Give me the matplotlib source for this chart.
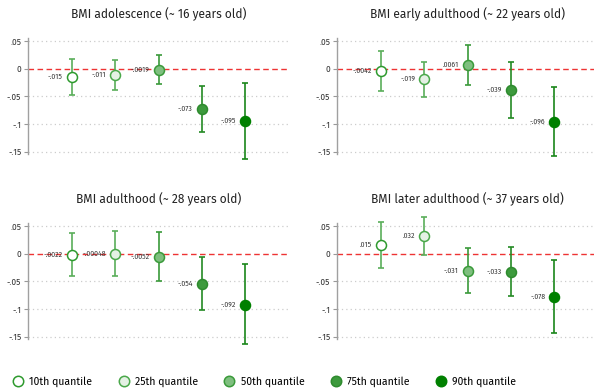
import matplotlib
matplotlib.use("Agg")
import matplotlib.pyplot as plt
from matplotlib.lines import Line2D

plt.rcParams['font.family'] = ['Fira Sans', 'Open Sans', 'DejaVu Sans']

titles = ["BMI adolescence (~ 16 years old)", "BMI early adulthood (~ 22 years old)",
          "BMI adulthood (~ 28 years old)", "BMI later adulthood (~ 37 years old)"]
quantiles = ["10th quantile", "25th quantile", "50th quantile", "75th quantile", "90th quantile"]

est_adol = [-0.015, -0.011, -0.0019, -0.073, -0.095]
lo_adol = [-0.047, -0.038, -0.028, -0.114, -0.164]
hi_adol = [0.017, 0.016, 0.024, -0.032, -0.025]

est_early = [-0.0042, -0.019, 0.0061, -0.039, -0.096]
lo_early = [-0.040, -0.051, -0.030, -0.089, -0.158]
hi_early = [0.032, 0.012, 0.043, 0.012, -0.033]

est_adult = [-0.0022, -0.00048, -0.0052, -0.054, -0.092]
lo_adult = [-0.041, -0.041, -0.049, -0.101, -0.164]
hi_adult = [0.038, 0.041, 0.039, -0.0066, -0.018]

est_later = [0.015, 0.032, -0.031, -0.033, -0.078]
lo_later = [-0.026, -0.002, -0.071, -0.077, -0.143]
hi_later = [0.058, 0.067, 0.0097, 0.0126, -0.011]

labels_adol = ["-.015", "-.011", "-.0019", "-.073", "-.095"]
labels_early = ["-.0042", "-.019", ".0061", "-.039", "-.096"]
labels_adult = ["-.0022", "-.00048", "-.0052", "-.054", "-.092"]
labels_later = [".015", ".032", "-.031", "-.033", "-.078"]

yticks = [0.05, 0, -0.05, -0.1, -0.15]
ytick_labels = [".05", "0", "-.05", "-.1", "-.15"]

face_cols = ["#ffffff", "#e4f1e4", "#7fbf7f", "#3d9a3d", "#008000"]
edge_cols = ["#2e9a2e", "#4aa84a", "#3a9a3a", "#2e8b2e", "#008000"]
bar_cols = ["#5aae5a", "#5aae5a", "#3a9a3a", "#248a24", "#1a861a"]

panels = [
    (titles[0], est_adol, lo_adol, hi_adol, labels_adol),
    (titles[1], est_early, lo_early, hi_early, labels_early),
    (titles[2], est_adult, lo_adult, hi_adult, labels_adult),
    (titles[3], est_later, lo_later, hi_later, labels_later),
]

W, H = 594, 391
fig = plt.figure(figsize=(W / 100, H / 100), dpi=100)

positions = [(28.3, 27.2), (337.3, 27.2), (28.3, 212.2), (337.3, 212.2)]
ax_w_px = 260.5
ax_h_px = 138.3

xs = [1, 2, 3, 4, 5]
for (title, est, lo, hi, labs), (lx, ty) in zip(panels, positions):
    ax = fig.add_axes([lx / W, (H - ty - ax_h_px) / H, ax_w_px / W, ax_h_px / H])
    ax.set_xlim(0, 6)
    ax.set_ylim(-0.175, 0.075)
    for yv in [0.05, -0.05, -0.1, -0.15]:
        ax.axhline(yv, color="#cccccc", lw=0.9, ls=(0, (1, 2.5)), zorder=0)
    ax.axhline(0, color="#ee3333", lw=1.0, ls=(0, (4, 2.5)), zorder=1)
    for i in range(5):
        ax.errorbar([xs[i]], [est[i]], yerr=[[est[i] - lo[i]], [hi[i] - est[i]]],
                    fmt="none", ecolor=bar_cols[i], elinewidth=1.2, capsize=2.5,
                    capthick=1.2, zorder=2)
        ax.plot([xs[i]], [est[i]], "o", ms=7.2, mfc=face_cols[i], mec=edge_cols[i],
                mew=1.1, zorder=3)
        ax.annotate(labs[i], (xs[i], est[i]), xytext=(-6.5, 0), textcoords="offset points",
                    ha="right", va="center", fontsize=5, color="#333333", zorder=4)
    ax.set_yticks(yticks)
    ax.set_yticklabels(ytick_labels)
    ax.tick_params(axis="y", labelsize=6, colors="#333333", length=3, width=0.8,
                   color="#999999", pad=2)
    ax.set_xticks([])
    for s in ["top", "right", "bottom"]:
        ax.spines[s].set_visible(False)
    ax.spines["left"].set_color("#a0a0a0")
    ax.spines["left"].set_linewidth(1.0)
    ax.spines["left"].set_bounds(-0.155, 0.055)
    ax.patch.set_alpha(0)
    fig.text((lx + ax_w_px / 2) / W, 1 - 14 / H if ty < 100 else 1 - 199 / H, title,
             ha="center", va="center", fontsize=8.6, color="#222222")

handles = [Line2D([], [], ls="none", marker="o", ms=7.5, mfc=face_cols[i], mec=edge_cols[i],
                  mew=1.1) for i in range(5)]
fig.legend(handles, quantiles, loc="center", bbox_to_anchor=(264 / W, 1 - 382 / H), ncol=5,
           frameon=False, fontsize=7.5, handletextpad=0.5, columnspacing=2.4,
           handlelength=1.2)

fig.savefig("out.png", dpi=100, facecolor="white")
